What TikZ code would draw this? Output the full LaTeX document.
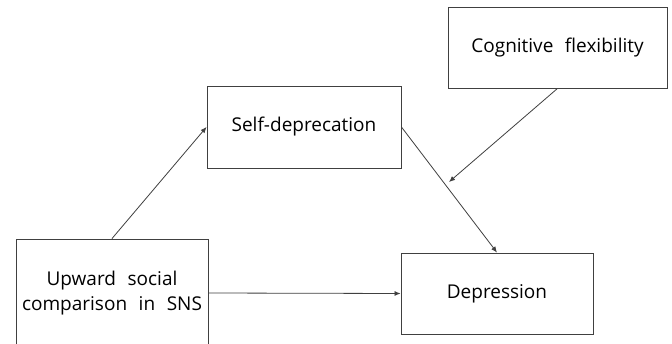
\documentclass[tikz,border=0pt]{standalone}
\usepackage{fontspec}
\setmainfont{Open Sans}
\usetikzlibrary{arrows.meta}
\definecolor{edge}{HTML}{404040}
\tikzset{
  box/.style={draw=edge, line width=0.9pt, rectangle, inner sep=0pt, align=center, font=\fontsize{19}{25}\selectfont, text=black},
  conn/.style={draw=edge, line width=0.8pt, -{Latex[length=6pt,width=5pt]}}
}
\begin{document}
\begin{tikzpicture}[x=1pt,y=-1pt]
\useasboundingbox (0,0) rectangle (672,344);
\clip (0,0) rectangle (672,344);
\fill[white] (0,0) rectangle (672,344);
\node[box, minimum width=219pt, minimum height=81pt] (cog) at (557.5,47.5) {Cognitive\hspace{0.35em} flexibility};
\node[box, minimum width=194pt, minimum height=82pt] (self) at (304,127) {Self-deprecation};
\node[box, minimum width=192pt, minimum height=108pt] (up) at (112,293) {Upward\hspace{0.35em} social\\comparison\hspace{0.35em} in\hspace{0.35em} SNS};
\node[box, minimum width=192pt, minimum height=81pt] (dep) at (497,293.5) {Depression};
\coordinate (mod) at (449,182);
\draw[conn] (up.north) -- (self.west);
\draw[conn] (up.east) -- (dep.west);
\draw[conn] (self.east) -- (dep.north);
\draw[conn] (cog.south) -- (mod);
\end{tikzpicture}
\end{document}
